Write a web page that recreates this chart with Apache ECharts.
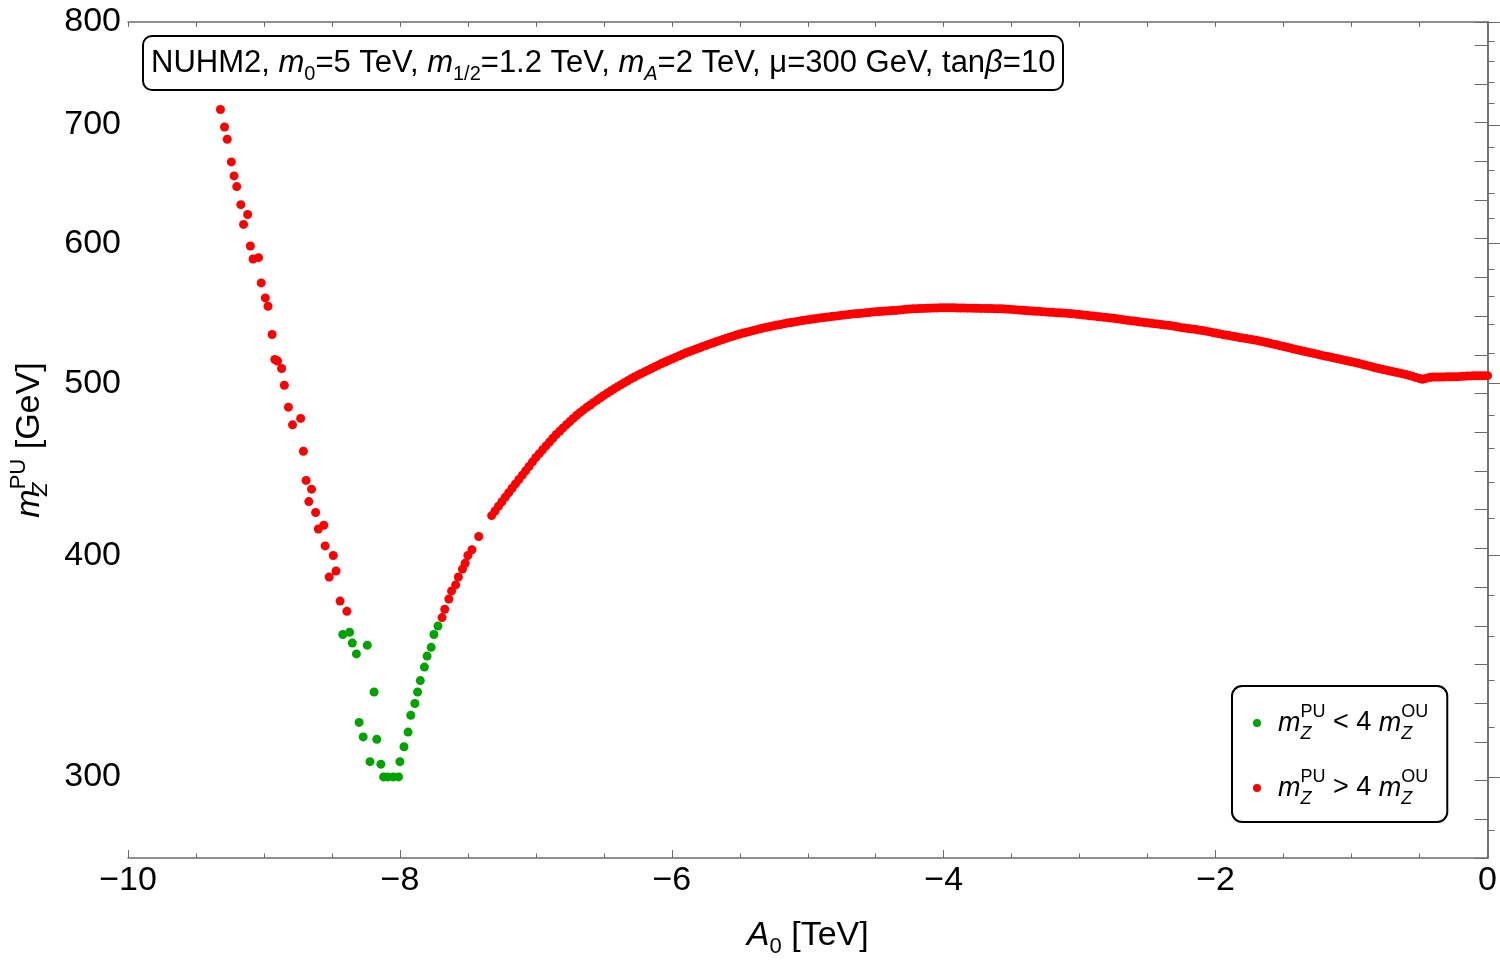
<!DOCTYPE html>
<html>
<head>
<meta charset="utf-8">
<script src="https://cdn.jsdelivr.net/npm/echarts@6.0.0/dist/echarts.min.js"></script>
<style>
html, body { margin: 0; padding: 0; background: #fff; }
#chart { width: 1500px; height: 963px; }
</style>
</head>
<body>
<div id="chart"></div>
<script>
// m_Z^PU < 4 m_Z^OU
var greenA0 = [-8.42, -8.37, -8.35, -8.24, -8.32, -8.19, -8.30, -8.27, -8.17, -8.22, -8.14,
	-8.12, -8.09, -8.05, -8.01, -8.00, -7.97, -7.94, -7.92, -7.89, -7.87, -7.85, -7.82,
	-7.80, -7.77, -7.75, -7.72];
var greenMz = [361, 362, 357, 356, 352, 335, 322, 316, 315, 306, 305,
	300, 300, 300, 300, 306, 312, 318, 325, 330, 335, 340, 346,
	351, 355, 361, 365];

// m_Z^PU > 4 m_Z^OU, scattered points
var redA0 = [-9.32, -9.29, -9.27, -9.24, -9.22, -9.20, -9.17, -9.12, -9.15, -9.10, -9.08,
	-9.04, -9.02, -8.99, -8.97, -8.94, -8.92, -8.90, -8.87, -8.85, -8.82, -8.79, -8.73,
	-8.71, -8.69, -8.65, -8.67, -8.62, -8.60, -8.56, -8.55, -8.49, -8.47, -8.52, -8.44,
	-8.39, -7.69, -7.67, -7.64, -7.62, -7.59, -7.57, -7.54, -7.52, -7.50, -7.47, -7.42];
var redMz = [714, 698, 687, 667, 655, 646, 631, 623, 615, 598, 588,
	589, 570, 559, 553, 533, 516, 515, 510, 499, 485, 474, 478,
	458, 441, 436, 429, 423, 414, 416, 405, 400, 392, 389, 377,
	372, 369, 373, 378, 382, 385, 389, 393, 396, 400, 403, 410];

// m_Z^PU > 4 m_Z^OU, dense branch: [A0 (TeV), m_Z^PU (GeV)]
var curvePoints = [
	[-7.325, 421.3], [-7.300, 423.8], [-7.275, 426.4], [-7.250, 428.9], [-7.225, 431.5],
	[-7.200, 434.0], [-7.175, 436.5], [-7.150, 439.0], [-7.125, 441.5], [-7.100, 444.0],
	[-7.075, 446.5], [-7.050, 449.0], [-7.025, 451.7], [-7.000, 454.3], [-6.975, 456.6],
	[-6.950, 458.9], [-6.925, 461.2], [-6.900, 463.5], [-6.875, 465.8], [-6.850, 468.1],
	[-6.825, 470.1], [-6.800, 472.1], [-6.775, 474.1], [-6.750, 476.0], [-6.725, 478.0],
	[-6.700, 479.9], [-6.675, 481.6], [-6.650, 483.3], [-6.625, 484.9], [-6.600, 486.4],
	[-6.575, 488.0], [-6.550, 489.5], [-6.525, 491.0], [-6.500, 492.5], [-6.475, 493.9],
	[-6.450, 495.3], [-6.425, 496.7], [-6.400, 498.0], [-6.375, 499.3], [-6.350, 500.6],
	[-6.325, 501.9], [-6.300, 503.2], [-6.275, 504.4], [-6.250, 505.6], [-6.225, 506.7],
	[-6.200, 507.8], [-6.175, 508.9], [-6.150, 510.0], [-6.125, 511.1], [-6.100, 512.2],
	[-6.075, 513.3], [-6.050, 514.3], [-6.025, 515.3], [-6.000, 516.3], [-5.975, 517.3],
	[-5.950, 518.3], [-5.925, 519.3], [-5.900, 520.3], [-5.875, 521.2], [-5.850, 522.0],
	[-5.825, 522.9], [-5.800, 523.8], [-5.775, 524.7], [-5.750, 525.5], [-5.725, 526.4],
	[-5.700, 527.2], [-5.675, 528.0], [-5.650, 528.8], [-5.625, 529.6], [-5.600, 530.4],
	[-5.575, 531.2], [-5.550, 531.9], [-5.525, 532.7], [-5.500, 533.4], [-5.475, 534.0],
	[-5.450, 534.6], [-5.425, 535.2], [-5.400, 535.8], [-5.375, 536.4], [-5.350, 537.0],
	[-5.325, 537.6], [-5.300, 538.1], [-5.275, 538.6], [-5.250, 539.1], [-5.225, 539.6],
	[-5.200, 540.0], [-5.175, 540.5], [-5.150, 541.0], [-5.125, 541.4], [-5.100, 541.8],
	[-5.075, 542.2], [-5.050, 542.6], [-5.025, 543.0], [-5.000, 543.3], [-4.975, 543.7],
	[-4.950, 544.0], [-4.925, 544.4], [-4.900, 544.7], [-4.875, 545.0], [-4.850, 545.3],
	[-4.825, 545.6], [-4.800, 545.9], [-4.775, 546.2], [-4.750, 546.5], [-4.725, 546.8],
	[-4.700, 547.1], [-4.675, 547.4], [-4.650, 547.6], [-4.625, 547.8], [-4.600, 548.0],
	[-4.575, 548.3], [-4.550, 548.5], [-4.525, 548.8], [-4.500, 549.0], [-4.475, 549.2],
	[-4.450, 549.4], [-4.425, 549.6], [-4.400, 549.7], [-4.375, 549.9], [-4.350, 550.0],
	[-4.325, 550.3], [-4.300, 550.5], [-4.275, 550.8], [-4.250, 551.0], [-4.225, 551.1],
	[-4.200, 551.2], [-4.175, 551.3], [-4.150, 551.4], [-4.125, 551.5], [-4.100, 551.6],
	[-4.075, 551.7], [-4.050, 551.7], [-4.025, 551.8], [-4.000, 551.8], [-3.975, 551.8],
	[-3.950, 551.8], [-3.925, 551.8], [-3.900, 551.7], [-3.875, 551.7], [-3.850, 551.7],
	[-3.825, 551.6], [-3.800, 551.6], [-3.775, 551.5], [-3.750, 551.5], [-3.725, 551.4],
	[-3.700, 551.4], [-3.675, 551.3], [-3.650, 551.3], [-3.625, 551.2], [-3.600, 551.2],
	[-3.575, 551.1], [-3.550, 551.0], [-3.525, 550.9], [-3.500, 550.7], [-3.475, 550.5],
	[-3.450, 550.3], [-3.425, 550.1], [-3.400, 549.9], [-3.375, 549.7], [-3.350, 549.6],
	[-3.325, 549.4], [-3.300, 549.3], [-3.275, 549.1], [-3.250, 548.9], [-3.225, 548.7],
	[-3.200, 548.6], [-3.175, 548.4], [-3.150, 548.3], [-3.125, 548.1], [-3.100, 548.0],
	[-3.075, 547.8], [-3.050, 547.6], [-3.025, 547.3], [-3.000, 547.1], [-2.975, 546.8],
	[-2.950, 546.5], [-2.925, 546.2], [-2.900, 546.0], [-2.875, 545.7], [-2.850, 545.5],
	[-2.825, 545.2], [-2.800, 544.9], [-2.775, 544.6], [-2.750, 544.4], [-2.725, 544.0],
	[-2.700, 543.7], [-2.675, 543.3], [-2.650, 543.0], [-2.625, 542.7], [-2.600, 542.4],
	[-2.575, 542.1], [-2.550, 541.8], [-2.525, 541.5], [-2.500, 541.2], [-2.475, 540.9],
	[-2.450, 540.6], [-2.425, 540.3], [-2.400, 540.0], [-2.375, 539.7], [-2.350, 539.5],
	[-2.325, 539.1], [-2.300, 538.8], [-2.275, 538.3], [-2.250, 537.8], [-2.225, 537.5],
	[-2.200, 537.2], [-2.175, 536.9], [-2.150, 536.6], [-2.125, 536.2], [-2.100, 535.9],
	[-2.075, 535.4], [-2.050, 535.0], [-2.025, 534.5], [-2.000, 534.0], [-1.975, 533.5],
	[-1.950, 533.1], [-1.925, 532.7], [-1.900, 532.3], [-1.875, 531.8], [-1.850, 531.4],
	[-1.825, 531.0], [-1.800, 530.6], [-1.775, 530.2], [-1.750, 529.8], [-1.725, 529.4],
	[-1.700, 529.0], [-1.675, 528.5], [-1.650, 528.0], [-1.625, 527.5], [-1.600, 527.0],
	[-1.575, 526.4], [-1.550, 525.9], [-1.525, 525.3], [-1.500, 524.8], [-1.475, 524.2],
	[-1.450, 523.7], [-1.425, 523.1], [-1.400, 522.6], [-1.375, 522.0], [-1.350, 521.5],
	[-1.325, 521.0], [-1.300, 520.5], [-1.275, 520.0], [-1.250, 519.5], [-1.225, 518.9],
	[-1.200, 518.4], [-1.175, 518.0], [-1.150, 517.5], [-1.125, 517.0], [-1.100, 516.5],
	[-1.075, 516.0], [-1.050, 515.5], [-1.025, 515.0], [-1.000, 514.5], [-0.975, 514.0],
	[-0.950, 513.5], [-0.925, 512.9], [-0.900, 512.3], [-0.875, 511.7], [-0.850, 511.1],
	[-0.825, 510.5], [-0.800, 510.0], [-0.775, 509.5], [-0.750, 509.0], [-0.725, 508.5],
	[-0.700, 508.0], [-0.675, 507.5], [-0.650, 507.1], [-0.625, 506.5], [-0.600, 506.0],
	[-0.575, 505.4], [-0.550, 504.8], [-0.525, 504.1], [-0.500, 503.4], [-0.480, 502.9],
	[-0.460, 503.3], [-0.440, 503.8], [-0.420, 504.2], [-0.400, 504.4], [-0.375, 504.4],
	[-0.350, 504.4], [-0.325, 504.4], [-0.300, 504.5], [-0.275, 504.5], [-0.250, 504.5],
	[-0.225, 504.6], [-0.200, 504.8], [-0.175, 504.9], [-0.150, 505.0], [-0.125, 505.1],
	[-0.100, 505.2], [-0.075, 505.2], [-0.050, 505.2], [-0.025, 505.3], [0.000, 505.3]
];

var yMajorTicks = [300, 400, 500, 600, 700, 800];
var yMinorTicks = [280, 320, 340, 360, 380, 420, 440, 460, 480, 520, 540, 560, 580,
	620, 640, 660, 680, 720, 740, 760, 780];

var FONT = '"Liberation Sans", Arial, sans-serif';
var frameColor = '#6b6b6b';

function pairs(xs, ys) {
	return xs.map(function (x, i) { return [x, ys[i]]; });
}

function mathRich(size, line) {
	var small = Math.round(size * 0.66);
	return {
		i: { fontStyle: 'italic', fontSize: size, lineHeight: line, fontFamily: FONT, color: '#000' },
		t: { fontSize: size, lineHeight: line, fontFamily: FONT, color: '#000' },
		g: { fontSize: size, lineHeight: line, width: 12 },
		sb: { fontSize: small, lineHeight: Math.round(line * 0.56), verticalAlign: 'bottom', fontFamily: FONT, color: '#000' },
		sbi: { fontStyle: 'italic', fontSize: small, lineHeight: Math.round(line * 0.56), verticalAlign: 'bottom', fontFamily: FONT, color: '#000' },
		sz: { fontStyle: 'italic', fontSize: small, lineHeight: Math.round(line * 0.56), verticalAlign: 'bottom', width: 0, fontFamily: FONT, color: '#000' },
		sp: { fontSize: small, lineHeight: Math.round(line * 0.5), verticalAlign: 'top', fontFamily: FONT, color: '#000' }
	};
}

function minusFmt(v) {
	return v < 0 ? '\u2212' + (-v) : String(v);
}

var legendText = {
	'green': '{g| }{i|m}{sz|Z}{sp|PU}{t| < 4 }{i|m}{sz|Z}{sp|OU}',
	'red': '{g| }{i|m}{sz|Z}{sp|PU}{t| > 4 }{i|m}{sz|Z}{sp|OU}'
};

var chart = echarts.init(document.getElementById('chart'));

var option = {
	animation: false,
	backgroundColor: '#fff',
	textStyle: { fontFamily: FONT },
	title: {
		text: 'NUHM2, {i|m}{sb|0}=5 TeV, {i|m}{sb|1/2}=1.2 TeV, {i|m}{sbi|A}=2 TeV, \u03bc=300 GeV, tan{i|\u03b2}=10',
		left: 143,
		top: 36,
		padding: [6, 8, 6, 8],
		borderColor: '#000',
		borderWidth: 2,
		borderRadius: 9,
		backgroundColor: '#fff',
		textStyle: {
			fontSize: 31,
			fontWeight: 'normal',
			lineHeight: 42,
			color: '#000',
			fontFamily: FONT,
			rich: mathRich(31, 42)
		}
	},
	legend: {
		left: 1232,
		top: 686,
		orient: 'vertical',
		icon: 'circle',
		itemWidth: 8,
		itemHeight: 8,
		itemGap: 25,
		padding: [17, 19, 14, 21],
		borderColor: '#000',
		borderWidth: 2,
		borderRadius: 10,
		backgroundColor: '#fff',
		data: ['green', 'red'],
		formatter: function (name) { return legendText[name]; },
		textStyle: {
			fontSize: 27,
			lineHeight: 40,
			fontFamily: FONT,
			color: '#000',
			rich: mathRich(27, 40)
		}
	},
	grid: { left: 127, right: 10, top: 22, bottom: 99 },
	xAxis: [{
		type: 'value',
		position: 'bottom',
		min: -10,
		max: 0,
		interval: 2,
		axisLine: { show: true, lineStyle: { color: frameColor, width: 1.5 } },
		axisTick: { show: true, inside: true, length: 8, lineStyle: { color: frameColor } },
		minorTick: { show: true, splitNumber: 4, length: 4.5, lineStyle: { color: frameColor } },
		splitLine: { show: false },
		axisLabel: { margin: 6, fontSize: 34, color: '#000', fontFamily: FONT, formatter: minusFmt },
		name: '{i|A}{sb|0}{t| [TeV]}',
		nameLocation: 'middle',
		nameGap: 56,
		nameTextStyle: { fontSize: 34, fontFamily: FONT, color: '#000', rich: mathRich(34, 44) }
	}, {
		type: 'value',
		position: 'top',
		min: -10,
		max: 0,
		interval: 0.5,
		axisLine: { show: true, lineStyle: { color: frameColor, width: 1.5 } },
		axisTick: { show: true, inside: true, length: 5, lineStyle: { color: frameColor } },
		axisLabel: { show: false },
		splitLine: { show: false }
	}],
	yAxis: [{
		type: 'log',
		position: 'left',
		min: 270,
		max: 800,
		axisLine: { show: true, lineStyle: { color: frameColor, width: 1.5 } },
		axisTick: { show: true, inside: true, length: 14, customValues: yMajorTicks, lineStyle: { color: frameColor } },
		axisLabel: { margin: 7, fontSize: 34, color: '#000', fontFamily: FONT, customValues: yMajorTicks,
			formatter: function (v) { return String(Math.round(v)); } },
		splitLine: { show: false },
		name: '{i|m}{sz|Z}{sp|PU}{t| [GeV]}',
		nameLocation: 'middle',
		nameRotate: 90,
		nameGap: 76,
		nameTextStyle: { fontSize: 34, fontFamily: FONT, color: '#000', rich: mathRich(34, 44) }
	}, {
		type: 'log',
		position: 'left',
		min: 270,
		max: 800,
		axisLine: { show: false },
		axisTick: { show: true, inside: true, length: 7, customValues: yMinorTicks, lineStyle: { color: frameColor } },
		axisLabel: { show: false },
		splitLine: { show: false }
	}, {
		type: 'value',
		position: 'right',
		min: 0,
		max: 21.6,
		interval: 1,
		axisLine: { show: true, lineStyle: { color: frameColor, width: 1.5 } },
		axisTick: { show: true, inside: true, length: 13, lineStyle: { color: frameColor } },
		axisLabel: { show: false },
		splitLine: { show: false }
	}],
	series: [{
		name: 'green',
		type: 'scatter',
		xAxisIndex: 0,
		yAxisIndex: 0,
		symbol: 'circle',
		symbolSize: 9,
		itemStyle: { color: '#00a400', opacity: 1 },
		silent: true,
		data: pairs(greenA0, greenMz)
	}, {
		name: 'red',
		type: 'scatter',
		xAxisIndex: 0,
		yAxisIndex: 0,
		symbol: 'circle',
		symbolSize: 9,
		itemStyle: { color: '#ff0000', opacity: 1 },
		silent: true,
		data: pairs(redA0, redMz).concat(curvePoints)
	}]
};

chart.setOption(option);
</script>
</body>
</html>
